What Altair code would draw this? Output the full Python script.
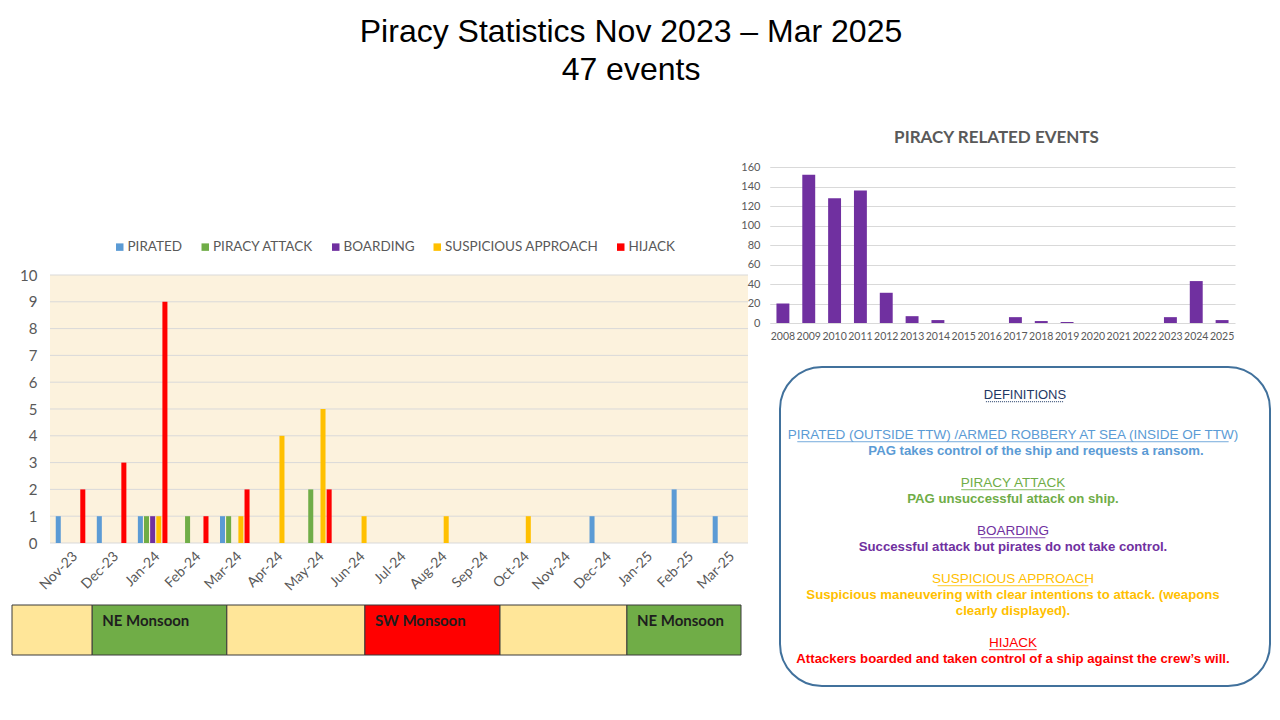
import altair as alt
import pandas as pd

FONT = "Lato"
GRAY = "#595959"
GRID = "#D9D9D9"
CREAM = "#FCF2DD"

# ---------------- data ----------------
months = ["Nov-23", "Dec-23", "Jan-24", "Feb-24", "Mar-24", "Apr-24", "May-24", "Jun-24",
          "Jul-24", "Aug-24", "Sep-24", "Oct-24", "Nov-24", "Dec-24", "Jan-25", "Feb-25", "Mar-25"]
series_names = ["PIRATED", "PIRACY ATTACK", "BOARDING", "SUSPICIOUS APPROACH", "HIJACK"]
series_colors = ["#5B9BD5", "#70AD47", "#7030A0", "#FFC000", "#FF0000"]
pirated       = [1, 1, 1, 0, 1, 0, 0, 0, 0, 0, 0, 0, 0, 1, 0, 2, 1]
piracy_attack = [0, 0, 1, 1, 1, 0, 2, 0, 0, 0, 0, 0, 0, 0, 0, 0, 0]
boarding      = [0, 0, 1, 0, 0, 0, 0, 0, 0, 0, 0, 0, 0, 0, 0, 0, 0]
suspicious    = [0, 0, 1, 0, 1, 4, 5, 1, 0, 1, 0, 1, 0, 0, 0, 0, 0]
hijack        = [2, 3, 9, 1, 2, 0, 2, 0, 0, 0, 0, 0, 0, 0, 0, 0, 0]
main_ticks = [0, 1, 2, 3, 4, 5, 6, 7, 8, 9, 10]

years = ["2008", "2009", "2010", "2011", "2012", "2013", "2014", "2015", "2016",
         "2017", "2018", "2019", "2020", "2021", "2022", "2023", "2024", "2025"]
events = [20, 152, 128, 136, 31, 7, 3, 0, 0, 6, 2, 1, 0, 0, 0, 6, 43, 3]
annual_ticks = [0, 20, 40, 60, 80, 100, 120, 140, 160]

monsoon_labels = ["", "NE Monsoon", "", "SW Monsoon", "", "NE Monsoon"]
monsoon_fill = ["#FFE699", "#70AD47", "#FFE699", "#FF0000", "#FFE699", "#70AD47"]
monsoon_start = [0, 1.87, 5.01, 8.23, 11.38, 14.34]
monsoon_end = [1.87, 5.01, 8.23, 11.38, 14.34, 17]

def_text = [
    "DEFINITIONS",
    "PIRATED (OUTSIDE TTW) /ARMED ROBBERY  AT SEA (INSIDE OF TTW)",
    "PAG takes control of the ship and requests  a ransom.",
    "PIRACY ATTACK",
    "PAG unsuccessful  attack on ship.",
    "BOARDING",
    "Successful  attack but pirates do not take control.",
    "SUSPICIOUS APPROACH",
    "Suspicious  maneuvering with clear intentions to attack. (weapons",
    "clearly displayed).",
    "HIJACK",
    "Attackers  boarded and taken control  of a ship against the crew\u2019s will.",
]
def_color = ["#1F3864", "#5B9BD5", "#5B9BD5", "#70AD47", "#70AD47", "#7030A0", "#7030A0",
             "#FFC000", "#FFC000", "#FFC000", "#FF0000", "#FF0000"]
def_kind = ["title", "heading", "indented", "heading", "body", "heading", "body",
            "heading", "body", "body", "heading", "body"]
def_line = [0, 2.5, 3.5, 5.5, 6.5, 8.5, 9.5, 11.5, 12.5, 13.5, 15.5, 16.5]

# ---------------- main monthly chart (with monsoon strip below) ----------------
rows = []
for s, vals in zip(series_names, [pirated, piracy_attack, boarding, suspicious, hijack]):
    for m, v in zip(months, vals):
        rows.append({"month": m, "type": s, "count": v})
main_df = pd.DataFrame(rows)

main_y = alt.Scale(domain=[0, 10], range=[376, 108], nice=False, zero=True)
main_y_axis = alt.Axis(title=None, values=main_ticks, grid=False, ticks=False, domain=False,
                       labelFont=FONT, labelFontSize=15, labelColor=GRAY, labelPadding=13)

plot_bg = alt.Chart(pd.DataFrame({"v": [0]})).mark_rect(color=CREAM).encode(
    y=alt.Y(datum=0, scale=main_y, axis=main_y_axis), y2=alt.Y2(datum=10))

grid = alt.Chart(pd.DataFrame({"tick": main_ticks})).mark_rule(color=GRID, strokeWidth=1).encode(
    y=alt.Y("tick:Q", scale=main_y, axis=main_y_axis))

bars = alt.Chart(main_df).mark_bar().encode(
    x=alt.X("month:N", sort=months,
            scale=alt.Scale(paddingInner=0.28, paddingOuter=0.14),
            axis=alt.Axis(title=None, labelAngle=-45, ticks=False, domain=False,
                          labelFont=FONT, labelFontSize=14, labelColor=GRAY, labelPadding=6)),
    xOffset=alt.XOffset("type:N", sort=series_names,
                        scale=alt.Scale(domain=series_names, paddingInner=0.18, paddingOuter=0)),
    y=alt.Y("count:Q", scale=main_y, axis=main_y_axis),
    color=alt.Color("type:N", sort=series_names,
                    scale=alt.Scale(domain=series_names, range=series_colors),
                    legend=alt.Legend(title=None, orient="none", legendX=63, legendY=73,
                                      direction="horizontal", symbolType="square",
                                      symbolSize=56, symbolStrokeWidth=0, labelFont=FONT,
                                      labelFontSize=13.5, labelColor=GRAY, columnPadding=15.5,
                                      labelOffset=1, padding=0)),
)

monthly = alt.layer(plot_bg, grid, bars)

strip_df = pd.DataFrame({"label": monsoon_labels, "fill": monsoon_fill,
                         "start": monsoon_start, "end": monsoon_end})
strip_y = alt.Scale(domain=[0, 1], range=[488, 438], nice=False, zero=False)
strip_base = alt.Chart(strip_df).encode(
    x=alt.X("start:Q", scale=alt.Scale(domain=[0, 17], range=[-38, 691], nice=False, zero=False),
            axis=None))
strip_rect = strip_base.mark_rect(stroke="#3A3A3A", strokeWidth=1).encode(
    x2="end:Q",
    y=alt.Y(datum=0, scale=strip_y, axis=None), y2=alt.Y2(datum=1),
    fill=alt.Fill("fill:N", scale=None))
strip_text = strip_base.mark_text(align="left", baseline="middle", dx=10, dy=16, font=FONT,
                                  fontWeight="bold", fontSize=15, color="#1E1E1E").encode(
    y=alt.Y(datum=1, scale=strip_y, axis=None), text="label:N")
strip = alt.layer(strip_rect, strip_text)

left = alt.layer(monthly, strip).resolve_scale(x="independent", y="independent").properties(
    width=698, height=376, view=alt.ViewBackground(stroke="transparent"))

# ---------------- annual chart ----------------
annual_df = pd.DataFrame({"year": years, "events": events})
annual = alt.Chart(annual_df, title=alt.Title(
    "PIRACY RELATED EVENTS", font=FONT, fontSize=17, fontWeight="bold", color=GRAY,
    anchor="middle", dx=-11, offset=14)).mark_bar(color="#7030A0").encode(
    x=alt.X("year:N", sort=years,
            scale=alt.Scale(range=[-10, 455], paddingInner=0.5, paddingOuter=0.25),
            axis=alt.Axis(title=None, labelAngle=0, ticks=False, domain=False, labelFont=FONT,
                          labelFontSize=10.5, labelColor=GRAY, labelPadding=8,
                          labelOverlap=False)),
    y=alt.Y("events:Q", scale=alt.Scale(domain=[0, 160], nice=False),
            axis=alt.Axis(title=None, values=annual_ticks, grid=True, gridColor=GRID,
                          ticks=True, tickSize=10, tickColor=GRID, domain=False,
                          labelFont=FONT, labelFontSize=11, labelColor=GRAY, labelPadding=10)),
).properties(width=455, height=156, view=alt.ViewBackground(stroke="transparent"))

# ---------------- definitions box ----------------
defs_df = pd.DataFrame({"text": def_text, "color": def_color, "kind": def_kind, "line": def_line})
defs_y = alt.Scale(domain=[-1.75, 18.19], reverse=True, nice=False, zero=False)
defs_base = alt.Chart(defs_df).encode(
    y=alt.Y("line:Q", scale=defs_y, axis=None),
    text="text:N",
    color=alt.Color("color:N", scale=None),
)
defs_title = defs_base.transform_filter(alt.datum.kind == "title").mark_text(
    font="Liberation Sans", fontSize=13, baseline="middle")
defs_head = defs_base.transform_filter(alt.datum.kind == "heading").mark_text(
    font="Liberation Sans", fontSize=13.5, baseline="middle", dx=-12)
defs_indent = defs_base.transform_filter(alt.datum.kind == "indented").mark_text(
    font="Liberation Sans", fontSize=13.2, fontWeight="bold", baseline="middle", dx=11)
defs_body = defs_base.transform_filter(alt.datum.kind == "body").mark_text(
    font="Liberation Sans", fontSize=13.2, fontWeight="bold", baseline="middle", dx=-12)

# underlines beneath the headings; their length follows the heading text length
# (narrow characters such as spaces and brackets count a bit under half a letter)
underline = alt.Chart(defs_df).transform_filter(
    (alt.datum.kind == "heading") | (alt.datum.kind == "title")
).transform_calculate(
    narrow="length(datum.text) - length(replace(datum.text, regexp('[ ()/I]', 'g'), ''))",
    units="(length(datum.text) - datum.narrow) + 0.46 * datum.narrow",
    shift="datum.kind == 'title' ? 1.38 : 0",
    k="datum.kind == 'title' ? 0.96 : 1",
    x0="datum.shift - datum.k * datum.units / 2",
    x1="datum.shift + datum.k * datum.units / 2",
    uy="datum.line + 0.42",
).mark_rule(strokeWidth=1).encode(
    x=alt.X("x0:Q", scale=alt.Scale(domain=[-30, 30], range=[-27.1, 493.1], nice=False,
                                     zero=False), axis=None),
    x2="x1:Q",
    y=alt.Y("uy:Q", scale=defs_y, axis=None),
    color=alt.Color("color:N", scale=None),
    strokeDash=alt.condition(alt.datum.kind == "title", alt.value([1, 1]), alt.value([1, 0])),
)

defs = alt.layer(defs_title, defs_head, defs_indent, defs_body, underline).properties(
    width=490, height=319,
    view=alt.ViewBackground(fill="white", stroke="#41719C", strokeWidth=2, cornerRadius=42))

right = alt.vconcat(annual, defs, spacing=44, bounds="flush")

chart = alt.hconcat(
    left, right, spacing=32, bounds="flush",
    title=alt.Title(["Piracy Statistics Nov 2023 \u2013 Mar 2025", "47 events"],
                    font="Liberation Sans", fontSize=32, fontWeight="normal", color="black",
                    lineHeight=38, anchor="middle", dx=-10, offset=42),
    padding={"left": 3, "top": 7, "right": 0, "bottom": 0},
).configure_view(stroke="transparent")

chart.save("out.html", embed_options={"renderer": "svg", "actions": False})
